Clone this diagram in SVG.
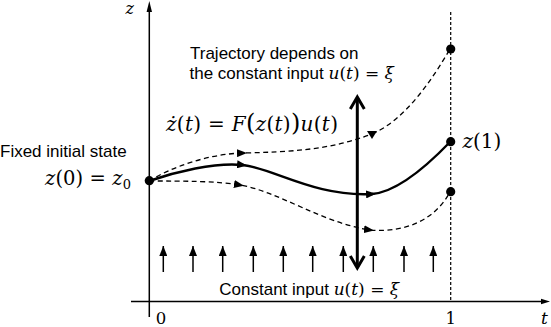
<svg xmlns="http://www.w3.org/2000/svg" width="551" height="327" viewBox="0 0 551 327">
<defs>
<marker id="ah" viewBox="0 0 10 8" refX="6" refY="4" markerWidth="10" markerHeight="8" markerUnits="userSpaceOnUse" orient="auto">
<path d="M0,0 L10,4 L0,8 Z" fill="#000"/>
</marker>
<marker id="up" viewBox="0 0 8 10" refX="4" refY="0" markerWidth="8" markerHeight="10" markerUnits="userSpaceOnUse" orient="0">
<path d="M4,0 L8,10 L0,10 Z" fill="#000"/>
</marker>
</defs>
<style>
.sans{font-family:"Liberation Sans",Arial,sans-serif;font-size:17px;fill:#000}
.math{font-family:"DejaVu Serif","Liberation Serif",serif;fill:#000}
.it{font-style:italic}
.dash{fill:none;stroke:#000;stroke-width:1.3;stroke-dasharray:5 3.5}
.solid{fill:none;stroke:#000;stroke-width:2.4}
.axis{fill:none;stroke:#000;stroke-width:1.5}
.tick{stroke:#000;stroke-width:1.5}
.dot{fill:#000}
</style>
<rect width="551" height="327" fill="#fff"/>

<g id="axes">
<line class="axis" x1="149.3" y1="317" x2="149.3" y2="10"/>
<path d="M149.3,1 L152,12 L146.6,12 Z" fill="#000"/>
<line class="axis" x1="131" y1="301.5" x2="543" y2="301.5"/>
<path d="M550,301.5 L541,298.8 L541,304.2 Z" fill="#000"/>
<line x1="450.7" y1="12" x2="450.7" y2="301" stroke="#000" stroke-width="1.2" stroke-dasharray="3 2"/>
<text class="math it" x="125.5" y="14" font-size="16">z</text>
<text class="math it" x="541" y="323.5" font-size="17">t</text>
<text class="math" x="161" y="324" font-size="16.5" text-anchor="middle">0</text>
<text class="math" x="450.7" y="324" font-size="16.5" text-anchor="middle">1</text>
</g>

<g id="connectors">
<path class="solid" marker-mid="url(#ah)" d="M149,181 C175,172 215,162 243,165 C275,169 315,197 372,194 C396,192 425,168 450,142"/>
<path class="dash" marker-mid="url(#ah)" d="M149,181 C172,167 208,154 243,153 C290,152 330,150 372,134"/>
<path class="dash" d="M372,134 C405,120 432,80 450,49"/>
<path d="M367,131 L377,131 L372,139 Z" fill="#000"/>
<path class="dash" marker-mid="url(#ah)" d="M149,181 C185,181 215,181 240,185 C280,192 320,222 370,230 C405,233 435,220 450,192"/>
<g id="input-arrows">
<line class="tick" x1="163.3" y1="272" x2="163.3" y2="246" marker-end="url(#up)"/>
<line class="tick" x1="193" y1="272" x2="193" y2="246" marker-end="url(#up)"/>
<line class="tick" x1="222.7" y1="272" x2="222.7" y2="246" marker-end="url(#up)"/>
<line class="tick" x1="253.3" y1="272" x2="253.3" y2="246" marker-end="url(#up)"/>
<line class="tick" x1="283.3" y1="272" x2="283.3" y2="246" marker-end="url(#up)"/>
<line class="tick" x1="312.7" y1="272" x2="312.7" y2="246" marker-end="url(#up)"/>
<line class="tick" x1="343.3" y1="272" x2="343.3" y2="246" marker-end="url(#up)"/>
<line class="tick" x1="373.3" y1="272" x2="373.3" y2="246" marker-end="url(#up)"/>
<line class="tick" x1="404" y1="272" x2="404" y2="246" marker-end="url(#up)"/>
<line class="tick" x1="433.3" y1="272" x2="433.3" y2="246" marker-end="url(#up)"/>
</g>
<g id="double-arrow" fill="none" stroke="#000" stroke-width="3">
<line x1="357.3" y1="98" x2="357.3" y2="267"/>
<polyline points="350.3,109 357.3,97 364.3,109"/>
<polyline points="350.3,256 357.3,268 364.3,256"/>
</g>
</g>

<g id="start-node">
<circle class="dot" cx="149.3" cy="180.7" r="4.6"/>
<text class="sans" x="0" y="157">Fixed initial state</text>
<text class="math" x="45" y="184.5" font-size="19.5" textLength="86" lengthAdjust="spacing"><tspan class="it">z</tspan>(0) = <tspan class="it">z</tspan><tspan font-size="13" dy="4">0</tspan></text>
</g>

<g id="end-top"><circle class="dot" cx="450.7" cy="49" r="4.6"/></g>
<g id="end-mid">
<circle class="dot" cx="450.7" cy="141.7" r="4.6"/>
<text class="math" x="462.5" y="148" font-size="20"><tspan class="it">z</tspan>(1)</text>
</g>
<g id="end-low"><circle class="dot" cx="450.7" cy="191.7" r="4.6"/></g>

<g id="labels">
<text class="sans" x="190" y="59">Trajectory depends on</text>
<text class="sans" x="189.5" y="79">the constant input <tspan class="math it">u</tspan><tspan class="math">(</tspan><tspan class="math it">t</tspan><tspan class="math">) = </tspan><tspan class="math it">ξ</tspan></text>
<text class="math" x="166" y="131" font-size="20" textLength="172" lengthAdjust="spacing"><tspan class="it">ż</tspan>(<tspan class="it">t</tspan>) = <tspan class="it">F</tspan><tspan font-size="24">(</tspan><tspan class="it">z</tspan>(<tspan class="it">t</tspan>)<tspan font-size="24">)</tspan><tspan class="it">u</tspan>(<tspan class="it">t</tspan>)</text>
<text class="sans" x="219.3" y="294.5">Constant input <tspan class="math it">u</tspan><tspan class="math">(</tspan><tspan class="math it">t</tspan><tspan class="math">) = </tspan><tspan class="math it">ξ</tspan></text>
</g>
</svg>
